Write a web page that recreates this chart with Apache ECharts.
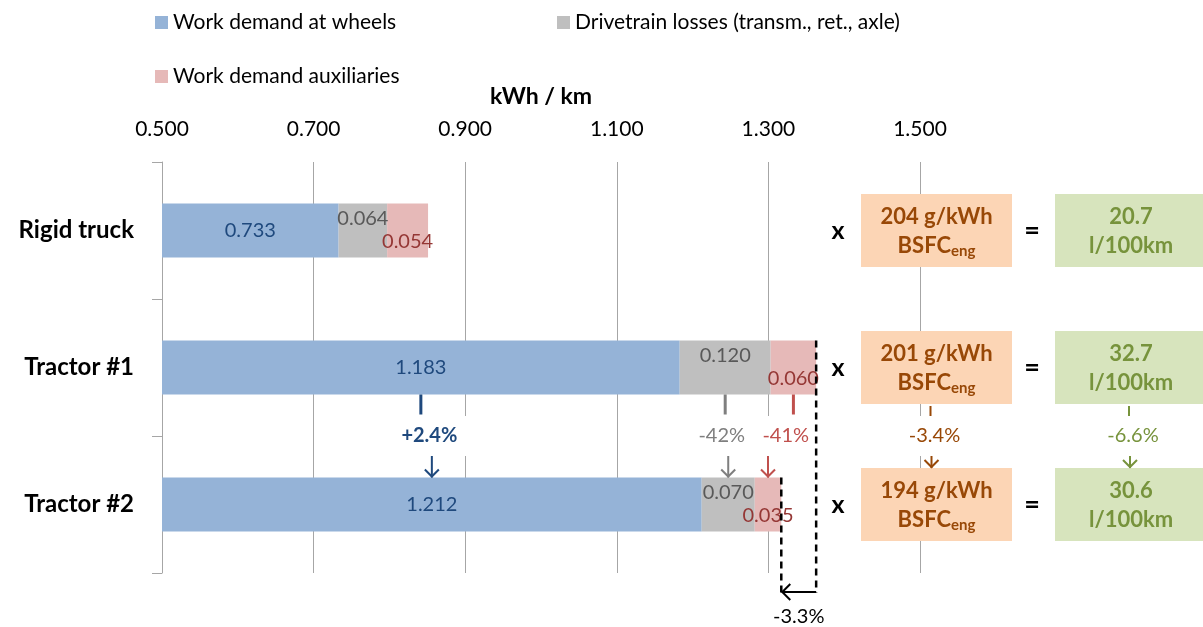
<!DOCTYPE html>
<html>
<head>
<meta charset="utf-8">
<script src="https://cdn.jsdelivr.net/npm/echarts@6/dist/echarts.min.js"></script>
<style>
  html, body { margin: 0; padding: 0; background: #fff; }
  #chart { width: 1203px; height: 627px; }
</style>
</head>
<body>
<div id="chart"></div>
<script>
// Energy demand per km, split by consumer, for three vehicles
const categories = ['Rigid truck', 'Tractor #1', 'Tractor #2'];
const wheelWork = [0.733, 1.183, 1.212];
const drivetrainLoss = [0.064, 0.120, 0.070];
const auxiliaryWork = [0.054, 0.060, 0.035];
const bsfc = [204, 201, 194];          // g/kWh
const fuelUse = [20.7, 32.7, 30.6];    // l/100km
const axisTicks = [0.5, 0.7, 0.9, 1.1, 1.3, 1.5];
const seriesNames = ['Work demand at wheels', 'Drivetrain losses (transm., ret., axle)', 'Work demand auxiliaries'];
const segmentChange = ['+2.4%', '-42%', '-41%'];   // Tractor #1 -> Tractor #2, per segment
const engineChange = ['-3.4%', '-6.6%'];           // BSFC, fuel consumption
const totalChange = '-3.3%';

const FONT = 'Lato';
const C = {
  blue: '#95B3D7', gray: '#BFBFBF', pink: '#E6B9B8',
  blueText: '#1F497D', grayText: '#595959', pinkText: '#953735',
  grayArrow: '#7F7F7F', redArrow: '#C0504D',
  orangeBox: '#FCD5B5', orangeText: '#984807',
  greenBox: '#D7E4BD', greenText: '#77933C',
  grid: '#A6A6A6'
};

const chart = echarts.init(document.getElementById('chart'), null, { renderer: 'canvas' });

const segColors = [C.blue, C.gray, C.pink];
const segLabelColors = [C.blueText, C.grayText, C.pinkText];
const segLabelOffsets = [[0, 0], [0, -12], [0, 11]];
const segData = [wheelWork, drivetrainLoss, auxiliaryWork];

const legendStyle = { fontFamily: FONT, fontSize: 21, color: '#000' };
const legendPos = [[155, 12], [557, 12], [155, 66]];

chart.setOption({
  animation: false,
  textStyle: { fontFamily: FONT },
  legend: seriesNames.map((n, i) => ({
    data: [n], left: legendPos[i][0], top: legendPos[i][1], padding: 0,
    itemWidth: 13, itemHeight: 13, icon: 'rect',
    textStyle: legendStyle, selectedMode: false
  })),
  grid: { left: 162, right: 283, top: 162, bottom: 54, containLabel: false },
  xAxis: {
    type: 'value', position: 'top',
    min: axisTicks[0], max: axisTicks[axisTicks.length - 1],
    interval: Math.round((axisTicks[1] - axisTicks[0]) * 1000) / 1000,
    name: 'kWh / km', nameLocation: 'middle', nameGap: 54,
    nameTextStyle: { fontFamily: FONT, fontSize: 23, fontWeight: 'bold', color: '#000' },
    axisLine: { show: false }, axisTick: { show: false },
    axisLabel: { fontFamily: FONT, fontSize: 21, color: '#000', margin: 22,
      formatter: v => v.toFixed(3) },
    splitLine: { show: true, lineStyle: { color: C.grid, width: 1 } }
  },
  yAxis: {
    type: 'category', inverse: true, data: categories,
    axisLine: { show: true, lineStyle: { color: C.grid, width: 1 } },
    axisTick: { show: true, length: 10, lineStyle: { color: C.grid } },
    axisLabel: { fontFamily: FONT, fontSize: 24, fontWeight: 'bold', color: '#000', margin: 28 },
    splitLine: { show: false }
  },
  series: seriesNames.map((n, i) => ({
    name: n, type: 'bar', stack: 'total', barWidth: 54,
    data: segData[i],
    itemStyle: { color: segColors[i] },
    label: {
      show: true, position: 'inside', offset: segLabelOffsets[i],
      fontFamily: FONT, fontSize: 20, color: segLabelColors[i],
      formatter: p => p.value.toFixed(3)
    },
    emphasis: { disabled: true }
  }))
});

// ---- annotations: BSFC / fuel boxes, change arrows, total change ----
const px = v => chart.convertToPixel({ xAxisIndex: 0 }, v);
const py = c => chart.convertToPixel({ yAxisIndex: 0 }, c);
const HALF_BAR = 27;
const rowY = categories.map(py);

const measure = (() => {
  const ctx = document.createElement('canvas').getContext('2d');
  return (text, font) => { ctx.font = font; return ctx.measureText(text).width; };
})();

const g = [];
function text(x, y, str, fill, size, bold, extra) {
  g.push(Object.assign({
    type: 'text', x, y, z: 100,
    style: Object.assign({
      text: str, fill, font: `${bold ? 'bold ' : ''}${size}px ${FONT}`,
      align: 'center', verticalAlign: 'middle', textAlign: 'center', textVerticalAlign: 'middle'
    }, extra || {})
  }));
}
function line(x1, y1, x2, y2, stroke, lw, dash) {
  g.push({ type: 'line', z: 100, shape: { x1, y1, x2, y2 },
    style: { stroke, lineWidth: lw, lineDash: dash || null } });
}
function head(points, stroke) {
  g.push({ type: 'polyline', z: 100, shape: { points }, style: { stroke, lineWidth: 2, fill: null } });
}
function downArrow(x, y1, y2, stroke) {
  line(x, y1, x, y2, stroke, 2);
  head([[x - 7, y2 - 8], [x, y2 - 1], [x + 7, y2 - 8]], stroke);
}

// Boxes beside each bar
const ORANGE_X = 861, ORANGE_W = 151, GREEN_X = 1055, GREEN_W = 160, BOX_H = 73;
const orangeCx = ORANGE_X + ORANGE_W / 2, greenCx = GREEN_X + 76;
const BOX_FONT = 22;
categories.forEach((c, i) => {
  const y = rowY[i];
  text(838, y, 'x', '#000', 25, true);
  g.push({ type: 'rect', z: 99, shape: { x: ORANGE_X, y: y - BOX_H / 2, width: ORANGE_W, height: BOX_H },
    style: { fill: C.orangeBox } });
  text(orangeCx, y - 14, bsfc[i] + ' g/kWh', C.orangeText, BOX_FONT, true);
  // BSFC with subscript "eng"
  const wMain = measure('BSFC', `bold ${BOX_FONT}px ${FONT}`);
  const wSub = measure('eng', `bold 15px ${FONT}`);
  const xStart = orangeCx - (wMain + wSub) / 2;
  text(xStart, y + 15, 'BSFC', C.orangeText, BOX_FONT, true, { align: 'left', textAlign: 'left' });
  text(xStart + wMain, y + 21, 'eng', C.orangeText, 15, true, { align: 'left', textAlign: 'left' });
  text(1032, y, '=', '#000', 27, true);
  g.push({ type: 'rect', z: 99, shape: { x: GREEN_X, y: y - BOX_H / 2, width: GREEN_W, height: BOX_H },
    style: { fill: C.greenBox } });
  text(greenCx, y - 14, fuelUse[i].toFixed(1), C.greenText, BOX_FONT, true);
  text(greenCx, y + 15, 'l/100km', C.greenText, BOX_FONT, true);
});

// Segment changes Tractor #1 -> Tractor #2
const y1 = rowY[1], y2 = rowY[2];
const midY = (y1 + y2) / 2;
const bounds = k => {
  const a = [axisTicks[0], wheelWork[k], wheelWork[k] + drivetrainLoss[k],
             wheelWork[k] + drivetrainLoss[k] + auxiliaryWork[k]];
  return [0, 1, 2].map(s => (px(a[s]) + px(a[s + 1])) / 2);
};
const fromX = bounds(1), toX = bounds(2);
const changeColors = [C.blueText, C.grayArrow, C.redArrow];
const labelShift = [3, -5, 5];
[0, 1, 2].forEach(s => {
  line(fromX[s], y1 + HALF_BAR, fromX[s], y1 + HALF_BAR + 20, changeColors[s], 3);
  downArrow(toX[s], y2 - HALF_BAR - 22, y2 - HALF_BAR, changeColors[s]);
  text((fromX[s] + toX[s]) / 2 + labelShift[s], midY, segmentChange[s], changeColors[s], 20, s === 0,
    { backgroundColor: '#fff', padding: [10, s === 0 ? 10 : 3] });
});

// BSFC and fuel changes
[[orangeCx - 6, C.orangeText], [greenCx - 2, C.greenText]].forEach(([x, col], k) => {
  line(x, y1 + BOX_H / 2 + 2, x, y1 + BOX_H / 2 + 12, col, 2);
  downArrow(x + 1, y2 - BOX_H / 2 - 17, y2 - BOX_H / 2, col);
  text(x + 4, midY, engineChange[k], col, 20, false, { backgroundColor: '#fff', padding: [10, 8] });
});

// Total change (dashed guides + arrow)
const t1 = wheelWork[1] + drivetrainLoss[1] + auxiliaryWork[1];
const t2 = wheelWork[2] + drivetrainLoss[2] + auxiliaryWork[2];
const xT1 = px(t1), xT2 = px(t2), yArrow = 592;
line(xT1, y1 - HALF_BAR, xT1, yArrow + 1, '#000', 2.5, [7, 5]);
line(xT2, y2 - HALF_BAR, xT2, yArrow + 1, '#000', 2.5, [7, 5]);
line(xT1, yArrow, xT2 + 1, yArrow, '#000', 2);
head([[xT2 + 9, yArrow - 8], [xT2 + 1, yArrow], [xT2 + 9, yArrow + 8]], '#000');
text((xT1 + xT2) / 2, 617, totalChange, '#000', 20, false);

chart.setOption({ graphic: { elements: g } });
</script>
</body>
</html>
